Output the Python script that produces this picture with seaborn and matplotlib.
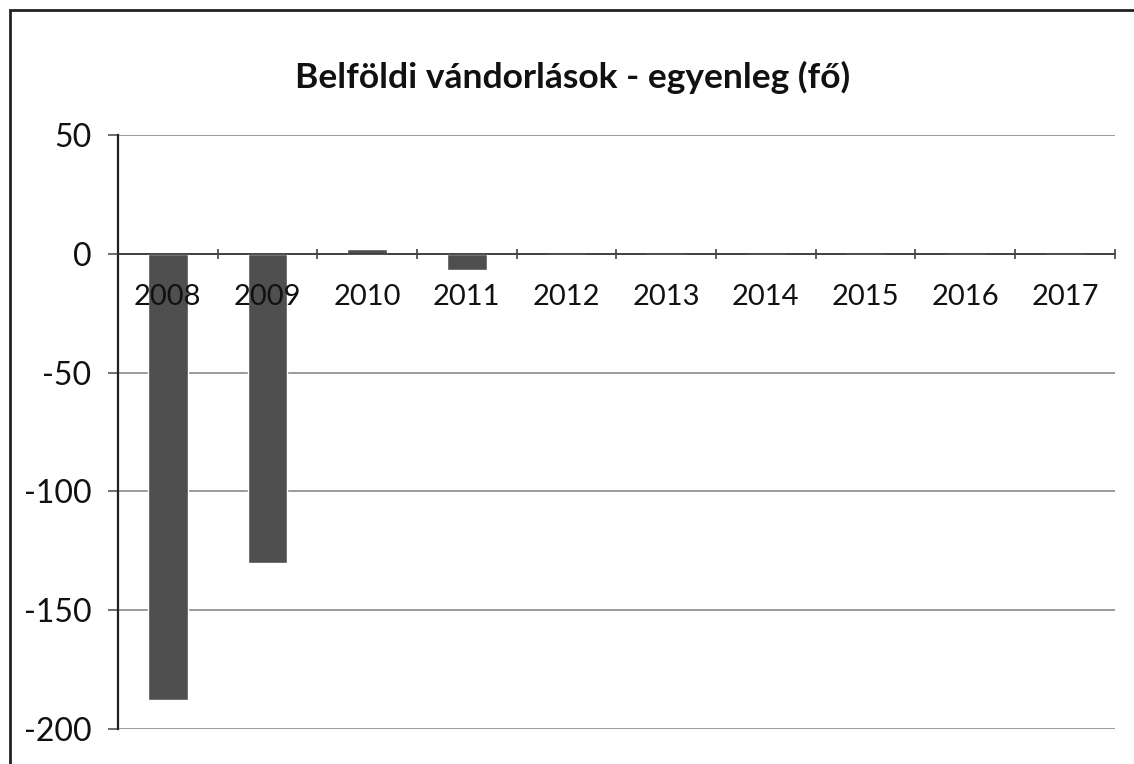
import matplotlib
matplotlib.use("Agg")
import matplotlib.pyplot as plt
import seaborn as sns
import pandas as pd
from matplotlib.patches import Rectangle
from matplotlib.ticker import FixedLocator

years = ["2008", "2009", "2010", "2011", "2012", "2013", "2014", "2015", "2016", "2017"]
values = [-188, -130, 2, -7, 0, 0, 0, 0, 0, 0]
y_ticks = [50, 0, -50, -100, -150, -200]
title = "Belföldi vándorlások - egyenleg (fő)"

sns.set_style("white")
plt.rcParams["font.family"] = ["Lato", "DejaVu Sans"]

df = pd.DataFrame({"year": years, "value": values})

fig = plt.figure(figsize=(11.34, 7.64), dpi=100)
ax = fig.add_axes([0.104, 0.0458, 0.879, 0.7775])

sns.barplot(data=df, x="year", y="value", color="#4f4f4f", width=0.4,
            saturation=1, ax=ax)
for bar in ax.patches:
    bar.set_zorder(1)

ax.set_ylim(-200, 50)
ax.set_xlim(-0.5, len(years) - 0.5)
ax.set_yticks(y_ticks)
ax.set_yticklabels([str(v) for v in y_ticks], fontsize=23, color="#111111")
ax.yaxis.grid(True, color="#8a8a8a", linewidth=1.2)
ax.set_axisbelow(True)
ax.tick_params(axis="y", length=7, width=1.2, color="#555555", pad=12, left=True)

# category axis sits on the zero line, labels drawn over the bars
ax.spines["bottom"].set_position(("data", 0))
ax.spines["bottom"].set_color("#333333")
ax.spines["bottom"].set_linewidth(1.2)
ax.spines["bottom"].set_zorder(3)
ax.xaxis.set_zorder(4)
ax.spines["left"].set_color("#222222")
ax.spines["left"].set_linewidth(1.6)
ax.spines["top"].set_visible(False)
ax.spines["right"].set_visible(False)
ax.xaxis.set_minor_locator(FixedLocator([i + 0.5 for i in range(len(years))]))
ax.tick_params(axis="x", which="major", length=0, pad=22, labelsize=21,
               labelcolor="#111111")
ax.tick_params(axis="x", which="minor", length=7, width=1.2, color="#444444",
               bottom=True, direction="inout")
ax.set_xlabel("")
ax.set_ylabel("")

fig.text(0.505, 0.898, title, ha="center", va="center", fontsize=25.5,
         fontweight="bold", color="#111111")

# chart area border
fig.patches.append(Rectangle((10 / 1134, -0.05), 1.1, 0.05 + 1 - 10 / 764,
                             transform=fig.transFigure, fill=False,
                             edgecolor="#222222", linewidth=2))

fig.savefig("out.png", dpi=100)
